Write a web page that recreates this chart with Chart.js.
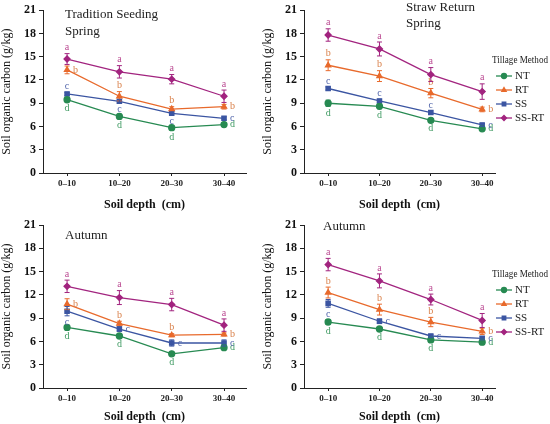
<!DOCTYPE html>
<html>
<head>
<meta charset="utf-8">
<script src="https://cdn.jsdelivr.net/npm/chart.js@4.4.1/dist/chart.umd.min.js"></script>
<style>
    html, body { margin: 0; padding: 0; background: #fff; }
    #wrap { position: relative; width: 550px; height: 424px; overflow: hidden; }
    #wrap canvas { position: absolute; }
</style>
</head>
<body>
<div id="wrap">
    <canvas id="c1"></canvas>
    <canvas id="c2"></canvas>
    <canvas id="c3"></canvas>
    <canvas id="c4"></canvas>
</div>
<script>
// categories and labels
const depthLabels = ['0–10', '10–20', '20–30', '30–40'];
const methods = ['NT', 'RT', 'SS', 'SS-RT'];
const sigLetters = ['d', 'b', 'c', 'a'];
const yTicks = [0, 3, 6, 9, 12, 15, 18, 21];

// Tradition Seeding, Spring
const tsSpringNT = [9.45, 7.3, 5.85, 6.25];
const tsSpringRT = [13.3, 9.9, 8.25, 8.55];
const tsSpringSS = [10.2, 9.25, 7.7, 7.05];
const tsSpringSSRT = [14.7, 13.05, 12.1, 9.9];
const tsSpringNTErr = [0.25, 0.3, 0.3, 0.2];
const tsSpringRTErr = [0.5, 0.6, 0.3, 0.3];
const tsSpringSSErr = [0.2, 0.2, 0.2, 0.2];
const tsSpringSSRTErr = [0.7, 0.8, 0.6, 0.8];

// Straw Return, Spring
const srSpringNT = [9.0, 8.6, 6.8, 5.7];
const srSpringRT = [13.9, 12.5, 10.3, 8.2];
const srSpringSS = [10.9, 9.3, 7.8, 6.2];
const srSpringSSRT = [17.8, 16.0, 12.7, 10.5];
const srSpringNTErr = [0.4, 0.3, 0.2, 0.2];
const srSpringRTErr = [0.7, 0.7, 0.6, 0.3];
const srSpringSSErr = [0.2, 0.2, 0.2, 0.2];
const srSpringSSRTErr = [0.8, 0.9, 0.9, 1.0];

// Tradition Seeding, Autumn
const tsAutumnNT = [7.8, 6.7, 4.4, 5.2];
const tsAutumnRT = [10.8, 8.3, 6.8, 6.9];
const tsAutumnSS = [9.9, 7.6, 5.8, 5.8];
const tsAutumnSSRT = [13.1, 11.65, 10.75, 8.1];
const tsAutumnNTErr = [0.3, 0.2, 0.2, 0.2];
const tsAutumnRTErr = [0.7, 0.3, 0.2, 0.2];
const tsAutumnSSErr = [0.6, 0.3, 0.4, 0.4];
const tsAutumnSSRTErr = [0.8, 0.9, 0.8, 0.8];

// Straw Return, Autumn
const srAutumnNT = [8.5, 7.6, 6.2, 5.9];
const srAutumnRT = [12.3, 10.1, 8.5, 7.3];
const srAutumnSS = [10.9, 8.6, 6.7, 6.4];
const srAutumnSSRT = [15.9, 13.8, 11.4, 8.7];
const srAutumnNTErr = [0.3, 0.2, 0.2, 0.2];
const srAutumnRTErr = [0.7, 0.7, 0.6, 0.4];
const srAutumnSSErr = [0.5, 0.3, 0.2, 0.2];
const srAutumnSSRTErr = [0.8, 0.9, 0.7, 0.9];

// styling
const lineColors = ['#278a52', '#e86a2c', '#3b55a2', '#a2247f'];
const letterColors = ['#3f9a62', '#d9804a', '#5064aa', '#bb4a92'];
const pointStyles = ['circle', 'triangle', 'rect', 'rectRot'];
const serif = "'Liberation Serif', 'DejaVu Serif', serif";

// where each significance letter sits: u = above, d = below, r = right
const letterPos = {
    c1: [['d', 'd', 'd', 'r'], ['r', 'u', 'u', 'r'], ['u', 'd', 'd', 'r'], ['u', 'u', 'u', 'u']],
    c2: [['d', 'd', 'd', 'r'], ['u', 'u', 'u', 'r'], ['u', 'u', 'u', 'r'], ['u', 'u', 'u', 'u']],
    c3: [['d', 'd', 'd', 'r'], ['r', 'u', 'u', 'r'], ['d', 'r', 'r', 'r'], ['u', 'u', 'u', 'u']],
    c4: [['d', 'd', 'd', 'r'], ['u', 'u', 'u', 'r'], ['d', 'r', 'r', 'r'], ['u', 'u', 'u', 'u']]
};

const extrasPlugin = {
    id: 'extras',
    afterDatasetsDraw(chart, args, opts) {
        const ctx = chart.ctx;
        const xs = chart.scales.x;
        const ys = chart.scales.y;
        ctx.save();
        // error bars + letters
        chart.data.datasets.forEach((ds, di) => {
            ds.data.forEach((p, i) => {
                const x = xs.getPixelForValue(p.x);
                const yc = ys.getPixelForValue(p.y);
                const yTop = ys.getPixelForValue(p.y + ds.err[i]);
                const yBot = ys.getPixelForValue(p.y - ds.err[i]);
                ctx.strokeStyle = lineColors[di];
                ctx.lineWidth = 1;
                ctx.beginPath();
                ctx.moveTo(x, yTop); ctx.lineTo(x, yBot);
                ctx.moveTo(x - 2.5, yTop); ctx.lineTo(x + 2.5, yTop);
                ctx.moveTo(x - 2.5, yBot); ctx.lineTo(x + 2.5, yBot);
                ctx.stroke();

                const pos = opts.letters[di][i];
                ctx.fillStyle = letterColors[di];
                ctx.font = '10px ' + serif;
                if (pos === 'u') {
                    ctx.textAlign = 'center'; ctx.textBaseline = 'bottom';
                    ctx.fillText(sigLetters[di], x, yTop - 1);
                } else if (pos === 'd') {
                    ctx.textAlign = 'center'; ctx.textBaseline = 'top';
                    ctx.fillText(sigLetters[di], x, yBot + 2);
                } else {
                    ctx.textAlign = 'left'; ctx.textBaseline = 'middle';
                    ctx.fillText(sigLetters[di], x + 6, yc);
                }
            });
        });

        // panel title
        ctx.fillStyle = '#222';
        ctx.font = '13px ' + serif;
        ctx.textAlign = 'left';
        ctx.textBaseline = 'middle';
        opts.title.forEach(t => ctx.fillText(t.text, t.x, t.y));

        // legend
        if (opts.legend) {
            const lg = opts.legend;
            ctx.font = '11px ' + serif;
            ctx.fillStyle = '#222';
            ctx.fillText('Tillage Method', lg.x + 4, lg.y, 56);
            methods.forEach((m, i) => {
                const y = lg.y + 16 + i * 14;
                ctx.strokeStyle = lineColors[i];
                ctx.fillStyle = lineColors[i];
                ctx.lineWidth = 1.3;
                ctx.beginPath();
                ctx.moveTo(lg.x + 8, y); ctx.lineTo(lg.x + 24, y);
                ctx.stroke();
                Chart.helpers.drawPoint(ctx, { pointStyle: pointStyles[i], rotation: 0, radius: 2.5, borderWidth: 1 }, lg.x + 16, y);
                ctx.fillStyle = '#222';
                ctx.fillText(m, lg.x + 27, y);
            });
        }
        ctx.restore();
    }
};

function makeChart(cfg) {
    const canvas = document.getElementById(cfg.id);
    canvas.width = cfg.w;
    canvas.height = cfg.h;
    canvas.style.left = cfg.left + 'px';
    canvas.style.top = cfg.top + 'px';
    canvas.style.width = cfg.w + 'px';
    canvas.style.height = cfg.h + 'px';

    const datasets = cfg.series.map((vals, di) => ({
        label: methods[di],
        data: vals.map((v, i) => ({ x: i, y: v })),
        err: cfg.errs[di],
        borderColor: lineColors[di],
        backgroundColor: lineColors[di],
        borderWidth: 1.3,
        pointStyle: pointStyles[di],
        pointRadius: 3,
        pointBackgroundColor: lineColors[di],
        pointBorderColor: lineColors[di],
        tension: 0
    }));

    return new Chart(canvas, {
        type: 'line',
        data: { datasets },
        plugins: [extrasPlugin],
        options: {
            responsive: false,
            animation: false,
            layout: { padding: { top: cfg.padTop, right: cfg.padRight, left: 0, bottom: 0 } },
            plugins: {
                legend: { display: false },
                tooltip: { enabled: false },
                extras: { letters: letterPos[cfg.id], title: cfg.title, legend: cfg.legend }
            },
            scales: {
                x: {
                    type: 'linear',
                    min: cfg.xMin,
                    max: cfg.xMax,
                    afterBuildTicks: (s) => { s.ticks = depthLabels.map((_, i) => ({ value: i })); },
                    afterFit: (s) => { s.height = cfg.xHeight; },
                    grid: { drawOnChartArea: false, tickLength: 3, color: '#222' },
                    border: { color: '#222', width: 1 },
                    ticks: {
                        autoSkip: false,
                        maxRotation: 0,
                        padding: 2,
                        color: '#222',
                        font: { family: serif, size: 9, weight: 'bold' },
                        callback: (v) => depthLabels[v]
                    },
                    title: {
                        display: true,
                        text: 'Soil depth  (cm)',
                        color: '#111',
                        padding: { top: 1, bottom: 0 },
                        font: { family: serif, size: 12, weight: 'bold' }
                    }
                },
                y: {
                    min: 0,
                    max: 21,
                    afterBuildTicks: (s) => { s.ticks = yTicks.map(v => ({ value: v })); },
                    afterFit: (s) => { s.width = 43; },
                    grid: { drawOnChartArea: false, tickLength: 4, color: '#222' },
                    border: { color: '#222', width: 1 },
                    ticks: {
                        padding: 3,
                        color: '#111',
                        font: { family: serif, size: 12, weight: 'bold' }
                    },
                    title: {
                        display: true,
                        text: 'Soil organic carbon (g/kg)',
                        color: '#111',
                        padding: { top: 0, bottom: 0 },
                        font: { family: serif, size: 12 }
                    }
                }
            }
        }
    });
}

makeChart({
    id: 'c1', left: 0, top: 0, w: 261, h: 212, padTop: 9, padRight: 15, xHeight: 39,
    xMin: -0.46, xMax: 3.42,
    series: [tsSpringNT, tsSpringRT, tsSpringSS, tsSpringSSRT],
    errs: [tsSpringNTErr, tsSpringRTErr, tsSpringSSErr, tsSpringSSRTErr],
    title: [{ text: 'Tradition Seeding', x: 65, y: 15 }, { text: 'Spring', x: 65, y: 32 }]
});
makeChart({
    id: 'c2', left: 261, top: 0, w: 289, h: 212, padTop: 9, padRight: 55, xHeight: 39,
    xMin: -0.47, xMax: 3.25,
    series: [srSpringNT, srSpringRT, srSpringSS, srSpringSSRT],
    errs: [srSpringNTErr, srSpringRTErr, srSpringSSErr, srSpringSSRTErr],
    title: [{ text: 'Straw Return', x: 145, y: 8 }, { text: 'Spring', x: 145, y: 24 }],
    legend: { x: 227, y: 60 }
});
makeChart({
    id: 'c3', left: 0, top: 212, w: 261, h: 212, padTop: 13, padRight: 15, xHeight: 36,
    xMin: -0.46, xMax: 3.42,
    series: [tsAutumnNT, tsAutumnRT, tsAutumnSS, tsAutumnSSRT],
    errs: [tsAutumnNTErr, tsAutumnRTErr, tsAutumnSSErr, tsAutumnSSRTErr],
    title: [{ text: 'Autumn', x: 65, y: 24 }]
});
makeChart({
    id: 'c4', left: 261, top: 212, w: 289, h: 212, padTop: 13, padRight: 55, xHeight: 36,
    xMin: -0.47, xMax: 3.25,
    series: [srAutumnNT, srAutumnRT, srAutumnSS, srAutumnSSRT],
    errs: [srAutumnNTErr, srAutumnRTErr, srAutumnSSErr, srAutumnSSRTErr],
    title: [{ text: 'Autumn', x: 62, y: 15 }],
    legend: { x: 227, y: 62 }
});
</script>
</body>
</html>
